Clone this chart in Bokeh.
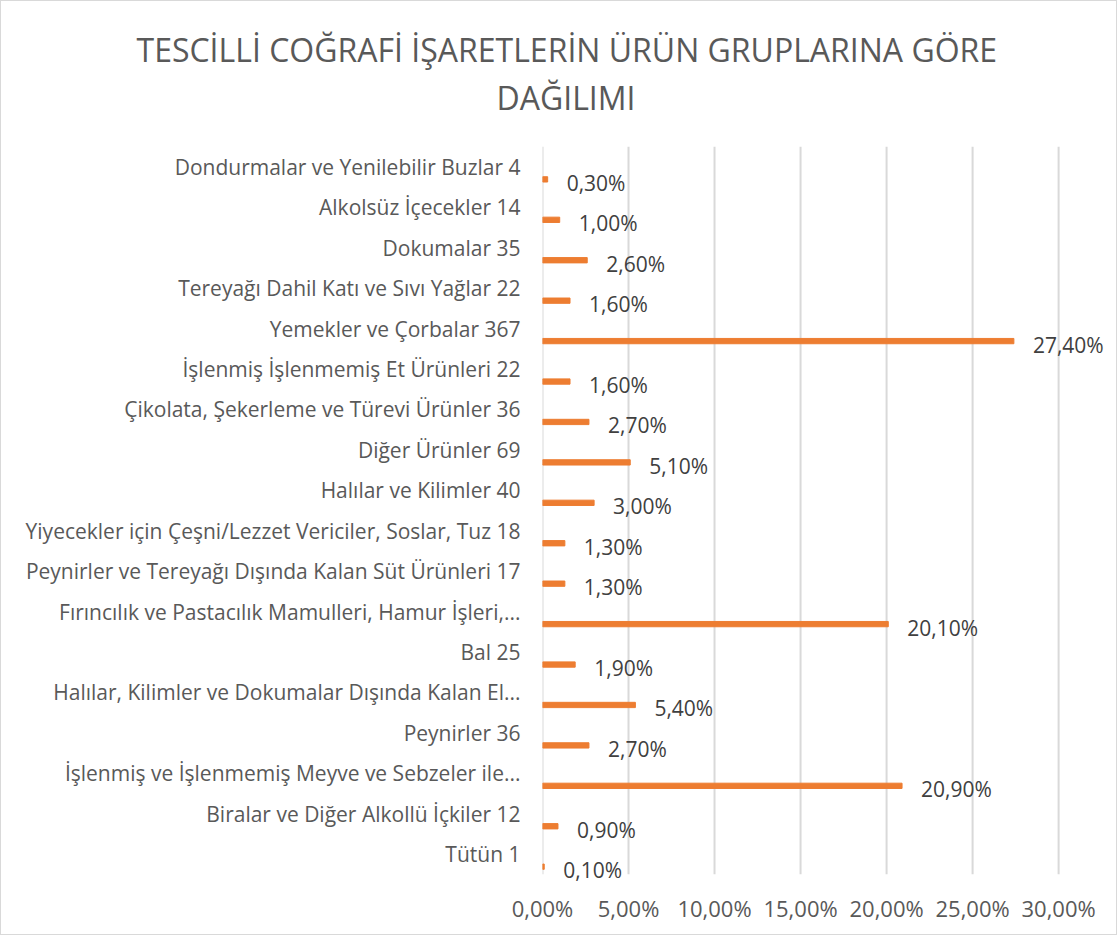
from bokeh.plotting import figure
from bokeh.models import (Range1d, FixedTicker, CustomJSTickFormatter,
                          ColumnDataSource, Title)
from bokeh.core.properties import value
from bokeh.transform import dodge
from bokeh.embed import file_html
from bokeh.resources import INLINE

title_lines = ["TESCİLLİ COĞRAFİ İŞARETLERİN ÜRÜN GRUPLARINA GÖRE", "DAĞILIMI"]

categories = [
    "Dondurmalar ve Yenilebilir Buzlar 4",
    "Alkolsüz İçecekler 14",
    "Dokumalar 35",
    "Tereyağı Dahil Katı ve Sıvı Yağlar 22",
    "Yemekler ve Çorbalar 367",
    "İşlenmiş İşlenmemiş Et Ürünleri 22",
    "Çikolata, Şekerleme ve Türevi Ürünler 36",
    "Diğer Ürünler 69",
    "Halılar ve Kilimler 40",
    "Yiyecekler için Çeşni/Lezzet Vericiler, Soslar, Tuz 18",
    "Peynirler ve Tereyağı Dışında Kalan Süt Ürünleri 17",
    "Fırıncılık ve Pastacılık Mamulleri, Hamur İşleri,...",
    "Bal 25",
    "Halılar, Kilimler ve Dokumalar Dışında Kalan El...",
    "Peynirler 36",
    "İşlenmiş ve İşlenmemiş Meyve ve Sebzeler ile...",
    "Biralar ve Diğer Alkollü İçkiler 12",
    "Tütün 1",
]
percent_values = [0.3, 1.0, 2.6, 1.6, 27.4, 1.6, 2.7, 5.1, 3.0, 1.3, 1.3, 20.1, 1.9, 5.4, 2.7, 20.9, 0.9, 0.1]
x_ticks = [0, 5, 10, 15, 20, 25, 30]

n = len(categories)
ypos = [n - 1 - i + 0.5 for i in range(n)]          # category centres, first at top
labels = [f"{v:.2f}".replace(".", ",") + "%" for v in percent_values]
src = ColumnDataSource(dict(y=ypos, val=percent_values, lab=labels))

FONT = "Open Sans"
TXT = "#595959"
PAD = 0.3

p = figure(
    y_range=Range1d(-PAD, n + PAD),
    x_range=Range1d(0, 32.9),
    frame_width=566, frame_height=752,
    min_border_left=541, min_border_right=8, min_border_top=133, min_border_bottom=48,
    output_backend="svg", toolbar_location=None,
)
p.styles = {"border": "1px solid #d9d9d9"}
p.outline_line_color = None
p.background_fill_color = "white"

# vertical grid lines (and category axis line at 0), spanning the category band only
p.segment(x0=x_ticks, x1=x_ticks, y0=[0] * len(x_ticks), y1=[n] * len(x_ticks),
          line_color="#d9d9d9", line_width=2)

p.hbar(y=dodge("y", -0.31), left=0, right="val", height=0.131,
       color="#ED7D31", source=src)
p.text(x="val", y=dodge("y", -0.395), text="lab", source=src,
       x_offset=19, text_baseline="middle", text_align="left",
       text_font=value(FONT), text_font_size="21px", text_color="#404040")

# axes
p.xaxis.ticker = FixedTicker(ticks=x_ticks)
p.xaxis.formatter = CustomJSTickFormatter(code="return tick.toFixed(2).replace('.', ',') + '%';")
p.xaxis.axis_line_color = None
p.xaxis.major_tick_line_color = None
p.xaxis.minor_tick_line_color = None
p.xaxis.major_label_text_font = FONT
p.xaxis.major_label_text_font_size = "22px"
p.xaxis.major_label_text_color = TXT
p.xaxis.major_label_standoff = 0

p.yaxis.ticker = FixedTicker(ticks=ypos)
p.yaxis.major_label_overrides = {y: c for y, c in zip(ypos, categories)}
p.yaxis.axis_line_color = None
p.yaxis.major_tick_line_color = None
p.yaxis.minor_tick_line_color = None
p.yaxis.major_label_text_font = FONT
p.yaxis.major_label_text_font_size = "21px"
p.yaxis.major_label_text_color = TXT
p.yaxis.major_label_standoff = 16

p.xgrid.grid_line_color = None
p.ygrid.grid_line_color = None

# title: spacer + two lines stacked above the frame
p.add_layout(Title(text=" ", text_font_size="10px", standoff=3), "above")
p.add_layout(Title(text=title_lines[1], align="left", offset=-46, vertical_align="bottom",
                   standoff=0, text_font=FONT, text_font_size="32px",
                   text_font_style="normal", text_color=TXT), "above")
p.add_layout(Title(text=title_lines[0], align="left", offset=-406, vertical_align="bottom",
                   standoff=6, text_font=FONT, text_font_size="32px",
                   text_font_style="normal", text_color=TXT), "above")

open("out.html", "w").write(file_html(p, INLINE))
